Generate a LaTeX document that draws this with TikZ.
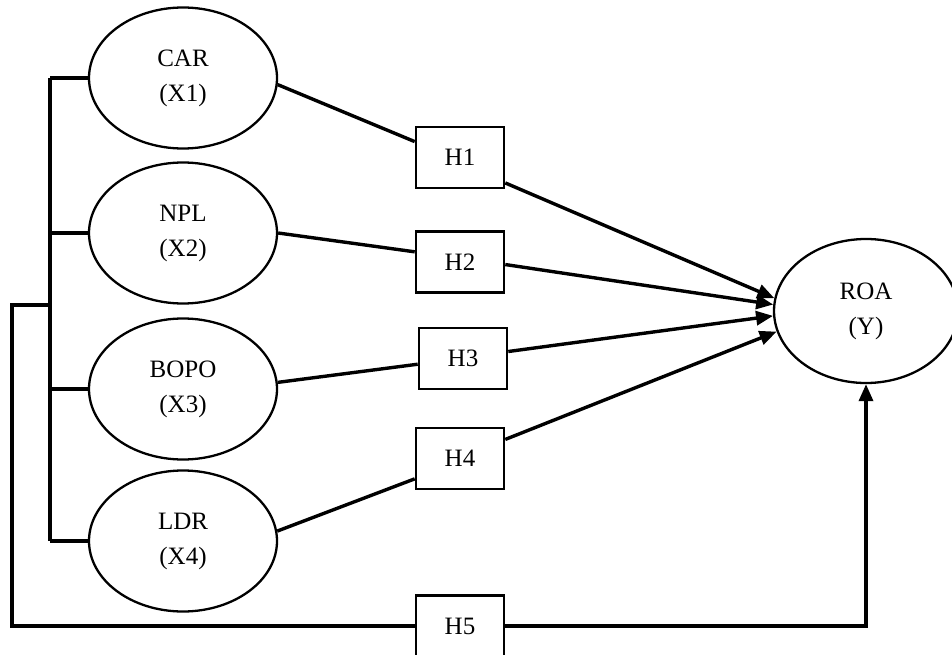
\documentclass[tikz,border=0pt]{standalone}
\usepackage{fontspec}
\setmainfont{Liberation Serif}
\usetikzlibrary{arrows.meta,calc,shapes.geometric}
\tikzset{
  var/.style={ellipse,draw,line width=2.3pt,minimum width=188pt,minimum height=141pt,inner sep=0pt,align=center,font=\fontsize{25}{35}\selectfont},
  hyp/.style={rectangle,draw,line width=2.6pt,minimum width=88pt,minimum height=61pt,inner sep=0pt,font=\fontsize{25}{30}\selectfont},
  link/.style={line width=3.4pt},
  arr/.style={line width=3.4pt,-{Triangle[length=17pt,width=14pt]}}
}
\begin{document}
\begin{tikzpicture}[x=1pt,y=-1pt]
\useasboundingbox (0,0) rectangle (952,655);
\node[var] (car)  at (183,78)  {CAR\\(X1)};
\node[var] (npl)  at (183,233) {NPL\\(X2)};
\node[var] (bopo) at (183,389) {BOPO\\(X3)};
\node[var] (ldr)  at (183,541) {LDR\\(X4)};
\node[var,minimum width=184pt,minimum height=144pt] (roa) at (866,311) {ROA\\(Y)};
\node[hyp] (h1) at (460,157.5) {H1};
\node[hyp] (h2) at (460,262)   {H2};
\node[hyp] (h3) at (463,358.5) {H3};
\node[hyp] (h4) at (460,458.5) {H4};
\node[hyp] (h5) at (460,626)   {H5};
\coordinate (bx) at (50,0);
\coordinate (j) at (50,305);
\coordinate (k) at (12,305);
% bracket
\draw[link] (car.west -| bx) -- (ldr.west -| bx);
\draw[link] (car.west) -- (car.west -| bx);
\draw[link] (npl.west) -- (npl.west -| bx);
\draw[link] (bopo.west) -- (bopo.west -| bx);
\draw[link] (ldr.west) -- (ldr.west -| bx);
\draw[link] (j) -- (k) |- (h5.west);
% variables to hypotheses
\draw[link] (car.-4) -- ($(h1.north west)!0.25!(h1.south west)$);
\draw[link] (npl.east) -- ($(h2.north west)!0.34!(h2.south west)$);
\draw[link] (bopo.4) -- ($(h3.north west)!0.59!(h3.south west)$);
\draw[link] (ldr.6) -- ($(h4.north west)!0.82!(h4.south west)$);
% hypotheses to ROA
\draw[arr] ($(h1.north east)!0.9!(h1.south east)$) -- (roa.172);
\draw[arr] ($(h2.north east)!0.54!(h2.south east)$) -- (roa.176);
\draw[arr] ($(h3.north east)!0.39!(h3.south east)$) -- (roa.183);
\draw[arr] ($(h4.north east)!0.2!(h4.south east)$) -- (roa.193);
\draw[arr] (h5.east) -| (roa.south);
\end{tikzpicture}
\end{document}
